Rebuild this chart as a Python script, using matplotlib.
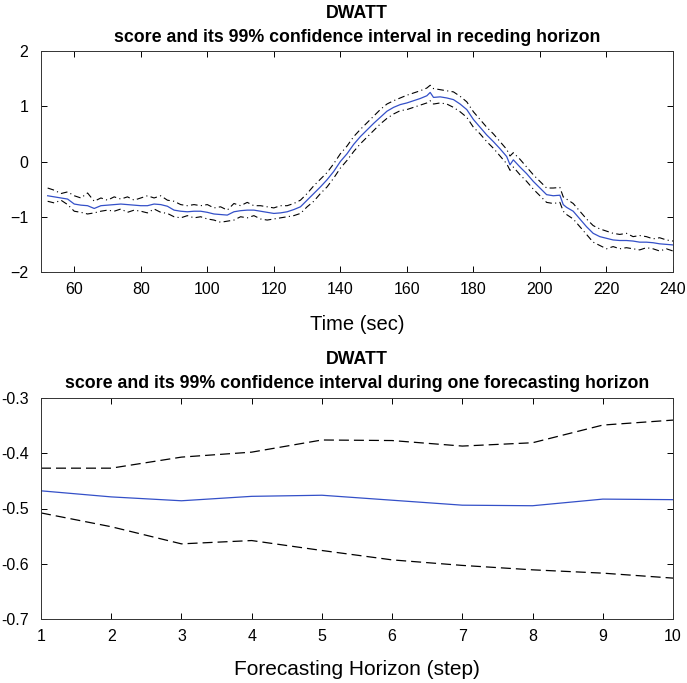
import matplotlib
matplotlib.use("Agg")
import matplotlib.pyplot as plt

plt.rcParams['font.family'] = ['Liberation Sans', 'DejaVu Sans']

# ---- top chart: receding horizon ----
time_sec = [52, 54, 56, 58, 60, 62, 64, 66, 68, 70, 72, 74, 76, 78, 80, 82, 84, 86, 88, 90,
            92, 94, 96, 98, 100, 102, 104, 106, 108, 110, 112, 114, 116, 118, 120, 122, 124, 126, 128, 130,
            132, 134, 136, 138, 140, 142, 144, 146, 148, 150, 152, 154, 156, 158, 160, 162, 164, 166, 167, 168,
            170, 172, 174, 176, 178, 180, 182, 184, 186, 188, 190, 191, 192, 194, 196, 198, 200, 202, 204, 206,
            207, 208, 210, 212, 214, 216, 218, 220, 222, 224, 226, 228, 230, 232, 234, 236, 238, 240]
score_mean = [-0.62, -0.64, -0.66, -0.68, -0.77, -0.79, -0.80, -0.85, -0.80, -0.79, -0.78, -0.77, -0.78, -0.79, -0.80, -0.80, -0.77, -0.78, -0.81, -0.88,
              -0.90, -0.91, -0.90, -0.90, -0.92, -0.95, -0.96, -0.97, -0.91, -0.89, -0.88, -0.88, -0.90, -0.92, -0.94, -0.93, -0.91, -0.87, -0.82, -0.70,
              -0.58, -0.46, -0.33, -0.18, 0.00, 0.14, 0.31, 0.45, 0.57, 0.69, 0.80, 0.91, 0.98, 1.03, 1.06, 1.10, 1.14, 1.19, 1.25, 1.16,
              1.17, 1.15, 1.12, 1.04, 0.94, 0.76, 0.62, 0.48, 0.36, 0.23, 0.09, -0.06, 0.03, -0.10, -0.22, -0.36, -0.48, -0.60, -0.62, -0.61,
              -0.78, -0.83, -0.90, -1.04, -1.18, -1.30, -1.36, -1.39, -1.42, -1.43, -1.43, -1.44, -1.46, -1.46, -1.47, -1.49, -1.50, -1.51]
score_upper = [-0.48, -0.52, -0.58, -0.55, -0.62, -0.66, -0.57, -0.72, -0.66, -0.70, -0.64, -0.68, -0.64, -0.70, -0.66, -0.62, -0.66, -0.62, -0.70, -0.72,
               -0.78, -0.80, -0.78, -0.80, -0.78, -0.84, -0.82, -0.88, -0.76, -0.80, -0.74, -0.80, -0.80, -0.82, -0.84, -0.80, -0.80, -0.76, -0.70, -0.58,
               -0.44, -0.32, -0.20, -0.04, 0.14, 0.28, 0.45, 0.58, 0.70, 0.82, 0.94, 1.04, 1.10, 1.15, 1.20, 1.24, 1.28, 1.33, 1.38, 1.32,
               1.30, 1.28, 1.26, 1.18, 1.08, 0.90, 0.76, 0.62, 0.50, 0.36, 0.22, 0.10, 0.16, 0.04, -0.10, -0.24, -0.36, -0.48, -0.48, -0.47,
               -0.64, -0.68, -0.76, -0.90, -1.04, -1.16, -1.22, -1.26, -1.30, -1.32, -1.30, -1.36, -1.34, -1.36, -1.40, -1.38, -1.42, -1.44]
score_lower = [-0.72, -0.75, -0.70, -0.78, -0.90, -0.92, -0.95, -0.93, -0.90, -0.88, -0.90, -0.86, -0.92, -0.88, -0.90, -0.93, -0.86, -0.92, -0.94, -1.00,
               -1.02, -0.98, -1.02, -1.00, -1.04, -1.06, -1.10, -1.08, -1.06, -1.00, -1.02, -0.98, -1.04, -1.06, -1.04, -1.02, -1.00, -0.98, -0.94, -0.82,
               -0.72, -0.58, -0.46, -0.30, -0.12, 0.02, 0.18, 0.32, 0.44, 0.56, 0.68, 0.78, 0.86, 0.92, 0.94, 0.98, 1.02, 1.06, 1.10, 1.04,
               1.06, 1.04, 0.98, 0.90, 0.80, 0.62, 0.50, 0.36, 0.24, 0.10, -0.04, -0.16, -0.10, -0.24, -0.36, -0.50, -0.62, -0.74, -0.76, -0.74,
               -0.90, -0.96, -1.04, -1.18, -1.32, -1.46, -1.52, -1.58, -1.54, -1.58, -1.56, -1.58, -1.60, -1.56, -1.58, -1.62, -1.58, -1.62]

# ---- bottom chart: one forecasting horizon ----
horizon_step = [1, 2, 3, 4, 5, 6, 7, 8, 9, 10]
horizon_mean = [-0.468, -0.479, -0.486, -0.478, -0.476, -0.485, -0.494, -0.495, -0.483, -0.484]
horizon_upper = [-0.427, -0.427, -0.407, -0.398, -0.376, -0.377, -0.387, -0.381, -0.349, -0.340]
horizon_lower = [-0.508, -0.533, -0.564, -0.558, -0.576, -0.593, -0.603, -0.611, -0.617, -0.626]

top_xticks = [60, 80, 100, 120, 140, 160, 180, 200, 220, 240]
top_yticks = [-2, -1, 0, 1, 2]
bot_yticks = [-0.7, -0.6, -0.5, -0.4, -0.3]

BLUE = '#3450c8'

fig = plt.figure(figsize=(6.87, 6.83), dpi=100)

W, H = 687, 683
def rect(l, t, r, b):
    return [l / W, 1 - b / H, (r - l) / W, (b - t) / H]

ax1 = fig.add_axes(rect(41, 51, 673, 272))
ax1.plot(time_sec, score_upper, color='black', lw=0.8, linestyle=(0, (6, 3, 1, 3)))
ax1.plot(time_sec, score_lower, color='black', lw=0.8, linestyle=(0, (6, 3, 1, 3)))
ax1.plot(time_sec, score_mean, color=BLUE, lw=0.9)
ax1.set_xlim(50, 240)
ax1.set_ylim(-2, 2)
ax1.set_xticks(top_xticks)
ax1.set_yticks(top_yticks)
ax1.set_xlabel('Time (sec)', fontsize=14.5, labelpad=13)

ax2 = fig.add_axes(rect(41, 398, 673, 619))
ax2.plot(horizon_step, horizon_upper, color='black', lw=0.9, linestyle=(0, (8, 4)))
ax2.plot(horizon_step, horizon_lower, color='black', lw=0.9, linestyle=(0, (8, 4)))
ax2.plot(horizon_step, horizon_mean, color=BLUE, lw=0.9)
ax2.set_xlim(1, 10)
ax2.set_ylim(-0.7, -0.3)
ax2.set_xticks(horizon_step)
ax2.set_yticks(bot_yticks)
ax2.set_yticklabels(['-0.7', '-0.6', '-0.5', '-0.4', '-0.3'])
ax2.set_xlabel('Forecasting Horizon (step)', fontsize=15, labelpad=12)

for ax in (ax1, ax2):
    ax.tick_params(direction='in', top=True, right=True, labelsize=11.5, length=4, width=0.7)
    ax.tick_params(axis='x', pad=7)
    ax.tick_params(axis='y', pad=9)
    for s in ax.spines.values():
        s.set_linewidth(0.7)
        s.set_color('#333333')

fig.text(357 / W, 1 - 13 / H, 'DWATT', ha='center', va='center', fontsize=12.8, fontweight='bold')
fig.text(357 / W, 1 - 37 / H, 'score and its 99% confidence interval in receding horizon',
         ha='center', va='center', fontsize=12.8, fontweight='bold')
fig.text(357 / W, 1 - 359 / H, 'DWATT', ha='center', va='center', fontsize=12.8, fontweight='bold')
fig.text(357 / W, 1 - 383 / H, 'score and its 99% confidence interval during one forecasting horizon',
         ha='center', va='center', fontsize=12.8, fontweight='bold')

fig.savefig('out.png', dpi=100)
